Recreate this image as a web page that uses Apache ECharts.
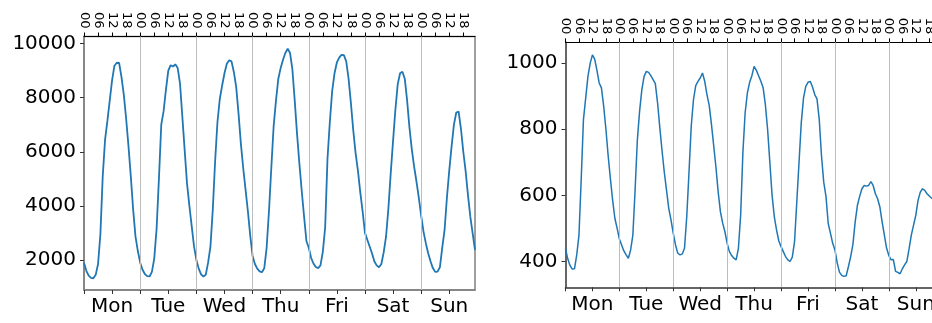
<!DOCTYPE html>
<html>
<head>
<meta charset="utf-8">
<script src="https://cdn.jsdelivr.net/npm/echarts@6/dist/echarts.min.js"></script>
<style>
  html, body { margin: 0; padding: 0; background: #fff; overflow: hidden; }
  #chart { width: 945px; height: 323px; }
</style>
</head>
<body>
<div id="chart"></div>
<script>
// hourly values, Mon 00 .. Sun 23
var leftCounts = [
  1900, 1600, 1420, 1340, 1320, 1450, 1850, 2950, 5100, 6450, 7150, 7900, 8650, 9180, 9290, 9280, 8770, 8110, 7220, 6210, 5080, 3850, 2860, 2330,
  1900, 1640, 1480, 1400, 1390, 1560, 2050, 3150, 5000, 7000, 7500, 8300, 9000, 9200, 9150, 9230, 9100, 8530, 7300, 6050, 4830, 4010, 3250, 2500,
  2000, 1680, 1470, 1390, 1450, 1900, 2490, 3850, 5650, 7100, 7950, 8450, 8900, 9250, 9380, 9340, 8950, 8400, 7420, 6300, 5400, 4600, 3800, 2900,
  2150, 1850, 1680, 1580, 1545, 1700, 2450, 3800, 5400, 6950, 7900, 8700, 9100, 9400, 9650, 9810, 9650, 9050, 7900, 6650, 5550, 4550, 3600, 2700,
  2450, 2080, 1870, 1740, 1700, 1800, 2300, 3200, 5750, 7100, 8250, 8900, 9300, 9480, 9580, 9570, 9340, 8700, 7800, 6800, 5950, 5300, 4500, 3800,
  3000, 2750, 2500, 2250, 1950, 1800, 1730, 1850, 2280, 2860, 3900, 5200, 6400, 7560, 8500, 8900, 8960, 8700, 7900, 6900, 6100, 5450, 4900, 4300,
  3650, 3050, 2620, 2250, 1950, 1700, 1560, 1570, 1730, 2450, 3100, 4300, 5300, 6200, 7000, 7450, 7480, 6850, 6000, 5280, 4400, 3600, 2980, 2370
]
// right panel, cut off by the picture edge after Sun ~20h
var rightCounts = [
  440, 408, 388, 377, 378, 420, 480, 650, 830, 895, 960, 1000, 1025, 1012, 978, 940, 925, 870, 800, 720, 650, 585, 530, 500,
  468, 450, 432, 420, 410, 435, 480, 617, 768, 855, 920, 960, 975, 972, 962, 950, 938, 880, 805, 735, 670, 615, 560, 525,
  485, 450, 425, 420, 423, 440, 536, 670, 810, 890, 932, 945, 955, 970, 945, 905, 872, 815, 750, 685, 610, 550, 516, 490,
  455, 430, 418, 410, 405, 440, 540, 730, 850, 910, 942, 962, 990, 978, 962, 945, 926, 875, 800, 700, 600, 535, 495, 462,
  445, 430, 415, 405, 400, 413, 460, 580, 700, 820, 895, 930, 942, 945, 928, 905, 892, 830, 720, 640, 597, 515, 485, 455,
  435, 396, 368, 358, 355, 357, 385, 415, 452, 520, 570, 597, 620, 630, 628, 630, 642, 630, 605, 590, 565, 520, 480, 440,
  418, 405, 406, 370, 367, 363, 378, 390, 400, 438, 480, 510, 540, 585, 610, 620, 615, 605, 598, 592, 588
]
var days = ['Mon', 'Tue', 'Wed', 'Thu', 'Fri', 'Sat', 'Sun']
var hourTicks = [0, 6, 12, 18, 24, 30, 36, 42, 48, 54, 60, 66, 72, 78, 84, 90, 96, 102, 108, 114, 120, 126, 132, 138, 144, 150, 156, 162]
var bottomTicks = [0, 12, 24, 36, 48, 60, 72, 84, 96, 108, 120, 132, 144, 156]
var dayLabelTicks = [12, 36, 60, 84, 108, 132, 156]
var dayBounds = [24, 48, 72, 96, 120, 144]
var leftYTicks = [2000, 4000, 6000, 8000, 10000]
var rightYTicks = [400, 600, 800, 1000]

var font = 'DejaVu Sans'
var blue = '#1f77b4'

function toPairs(arr) {
  return arr.map(function (v, i) { return [i, v] })
}

function bottomAxis(idx, lineColor) {
  return {
    type: 'value', gridIndex: idx, position: 'bottom', min: 0, max: 167,
    axisLine: { show: true, lineStyle: { color: lineColor, width: 1.5 } },
    axisTick: { show: true, length: 4, customValues: bottomTicks, lineStyle: { color: '#333' } },
    axisLabel: {
      customValues: dayLabelTicks, margin: 7, color: '#000', fontFamily: font, fontSize: 20,
      formatter: function (v) { return days[Math.round((v - 12) / 24)] }
    },
    splitLine: { show: false }
  }
}

function topAxis(idx) {
  return {
    type: 'value', gridIndex: idx, position: 'top', min: 0, max: 167,
    axisLine: { show: true, lineStyle: { color: '#000', width: 1 } },
    axisTick: { show: true, length: 4, customValues: hourTicks, lineStyle: { color: '#000' } },
    axisLabel: {
      customValues: hourTicks, rotate: 90, margin: 8, color: '#000', fontFamily: font, fontSize: 13,
      formatter: function (v) { var h = v % 24; return (h < 10 ? '0' : '') + h }
    },
    splitLine: { show: false }
  }
}

function yAxis(idx, min, max, ticks, lineColor) {
  return {
    type: 'value', gridIndex: idx, min: min, max: max,
    axisLine: { show: true, lineStyle: { color: lineColor, width: 1.5 } },
    axisTick: { show: true, length: 4, customValues: ticks, lineStyle: { color: '#333' } },
    axisLabel: {
      customValues: ticks, margin: 8, color: '#000', fontFamily: font, fontSize: 20,
      formatter: function (v) { return String(v) }
    },
    splitLine: { show: false }
  }
}

function dayLines(xi, yi) {
  return {
    type: 'line', xAxisIndex: xi, yAxisIndex: yi, data: [], z: 1,
    markLine: {
      silent: true, symbol: 'none', animation: false,
      label: { show: false },
      lineStyle: { color: '#bdbdbd', width: 1, type: 'solid' },
      data: dayBounds.map(function (d) { return { xAxis: d } })
    }
  }
}

var chart = echarts.init(document.getElementById('chart'))
chart.setOption({
  animation: false,
  grid: [
    { left: 84, top: 36.5, width: 391, height: 253.5, show: true, borderColor: '#808080', borderWidth: 1.5 },
    { left: 565.5, top: 42.3, width: 375, height: 245 }
  ],
  xAxis: [
    bottomAxis(0, '#808080'),
    topAxis(0),
    bottomAxis(1, '#333'),
    topAxis(1)
  ],
  yAxis: [
    yAxis(0, 890, 10260, leftYTicks, '#808080'),
    yAxis(1, 322, 1063, rightYTicks, '#333')
  ],
  series: [
    dayLines(0, 0),
    dayLines(2, 1),
    {
      type: 'line', xAxisIndex: 0, yAxisIndex: 0, z: 3,
      data: toPairs(leftCounts), showSymbol: false,
      lineStyle: { color: blue, width: 1.8 }
    },
    {
      type: 'line', xAxisIndex: 2, yAxisIndex: 1, z: 3,
      data: toPairs(rightCounts), showSymbol: false,
      lineStyle: { color: blue, width: 1.5 }
    }
  ]
})
</script>
</body>
</html>
